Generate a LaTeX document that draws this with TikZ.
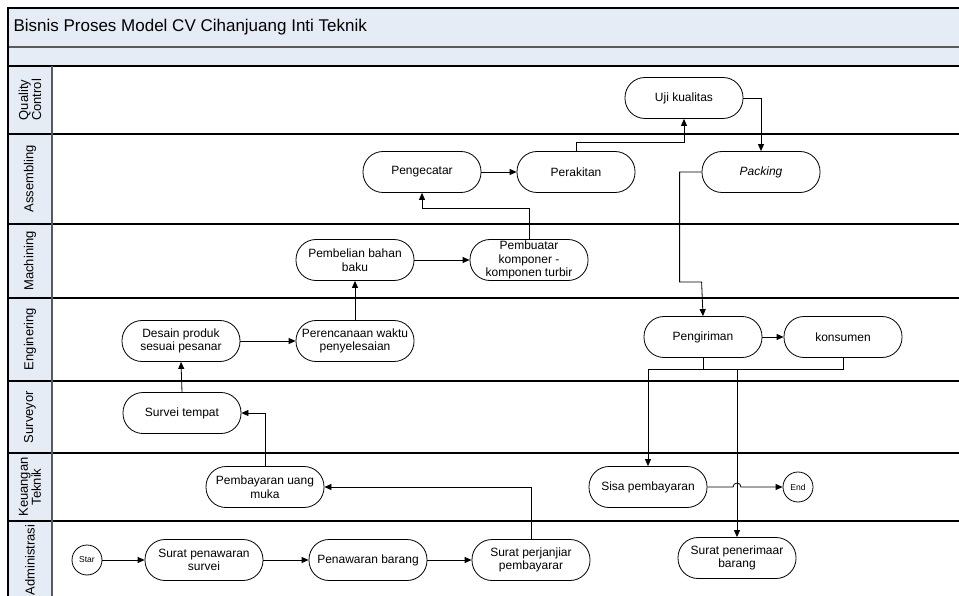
\documentclass[tikz,border=0pt]{standalone}
\usepackage{fontspec}
\setmainfont{Liberation Sans}
\usetikzlibrary{arrows.meta}
\definecolor{lanefill}{HTML}{E6ECF6}
\definecolor{edge}{HTML}{5A5A5A}

\begin{document}
\begin{tikzpicture}[x=1pt,y=-1pt,
  font=\fontsize{12}{13.5}\selectfont,
  proc/.style={draw,line width=0.8pt,fill=white,rounded corners=20pt,minimum width=118pt,minimum height=41pt,align=center,inner sep=1pt},
  term/.style={draw,circle,line width=0.8pt,fill=white,minimum size=30pt,inner sep=0pt,font=\fontsize{8.5}{9}\selectfont},
  lanelbl/.style={rotate=90,align=center,font=\fontsize{13}{13}\selectfont},
  fl/.style={-{Triangle[length=7pt,width=6pt]},line width=0.8pt},
  ln/.style={line width=0.8pt},
]
\useasboundingbox (0,0) rectangle (959,596);
% pool and lanes
\fill[lanefill] (8,8) rectangle (965,66);
\fill[lanefill] (8,66) rectangle (52,600);
\foreach \y in {66,134,224,298,381,453,521}
  \draw[line width=1.3pt] (8,\y) -- (965,\y);
\draw[edge,line width=2pt] (8,47) -- (965,47);
\draw[edge,line width=2pt] (52,66) -- (52,600);
\draw[line width=1.3pt] (8,600) -- (8,8) -- (965,8);
\node[anchor=west,font=\fontsize{17}{17}\selectfont] (title) at (10,27) {Bisnis Proses Model CV Cihanjuang Inti Teknik};
\node[lanelbl] (qc) at (30,100) {Quality\\Control};
\node[lanelbl] (asm) at (30,179) {Assembling};
\node[lanelbl] (mch) at (30,261) {Machining};
\node[lanelbl] (eng) at (30,339) {Enginering};
\node[lanelbl] (srv) at (30,417) {Surveyor};
\node[lanelbl] (keu) at (30,487) {Keuangan\\Teknik};
\node[lanelbl] (adm) at (30,560) {Administrasi};
% steps
\node[proc] (uji) at (684,98) {Uji kualitas};
\node[proc] (cat) at (422,172) {Pengecatar};
\node[proc] (rakit) at (576,172) {Perakitan};
\node[proc] (pack) at (761,172) {\itshape Packing};
\node[proc] (beli) at (355,260) {Pembelian bahan\\baku};
\node[proc] (buat) at (529,260) {Pembuatar\\komponer -\\komponen turbir};
\node[proc] (desain) at (181,341) {Desain produk\\sesuai pesanar};
\node[proc] (rencana) at (355,341) {Perencanaan waktu\\penyelesaian};
\node[proc] (kirim) at (703,337) {Pengiriman};
\node[proc] (konsumen) at (843,337) {konsumen};
\node[proc] (survei) at (182,413) {Survei tempat};
\node[proc] (bayar) at (265,487) {Pembayaran uang\\muka};
\node[proc] (sisa) at (648,487) {Sisa pembayaran};
\node[term] (fin) at (798,487) {End};
\node[term] (star) at (87,560) {Star};
\node[proc] (surat) at (204,560) {Surat penawaran\\survei};
\node[proc] (tawar) at (368,560) {Penawaran barang};
\node[proc] (janji) at (531,560) {Surat perjanjiar\\pembayarar};
\node[proc] (terima) at (737,558) {Surat penerimaar\\barang};
% flows
\draw[fl] (star) -- (surat);
\draw[fl] (surat) -- (tawar);
\draw[fl] (tawar) -- (janji);
\draw[fl] (janji.north) |- (bayar.east);
\draw[fl] (bayar.north) |- (survei.east);
\draw[fl] (survei.north) -- (desain.south);
\draw[fl] (desain) -- (rencana);
\draw[fl] (rencana.north) -- (beli.south);
\draw[fl] (beli) -- (buat);
\draw[fl] (buat.north) -- ++(0,-31) -| (cat.south);
\draw[fl] (cat) -- (rakit);
\draw[fl] (rakit.north) -- ++(0,-9) -| (uji.south);
\draw[fl] (uji.east) -| (pack.north);
\draw[fl] (pack.west) -- ++(-22,0) |- ++(22,110) -- (kirim.north);
\draw[fl] (kirim) -- (konsumen);
\coordinate (jn) at (703,369);
\draw[ln] (kirim.south) -- (jn);
\draw[ln] (konsumen.south) |- (jn);
\draw[fl] (jn) -| (sisa.north);
\draw[fl] (jn -| terima.north) -- (terima.north);
\coordinate (hop) at (terima.north |- sisa.east);
\draw[fl] (sisa.east) -- ([xshift=-4pt]hop) arc[start angle=180,end angle=0,radius=4pt] -- (fin.west);
\end{tikzpicture}
\end{document}
